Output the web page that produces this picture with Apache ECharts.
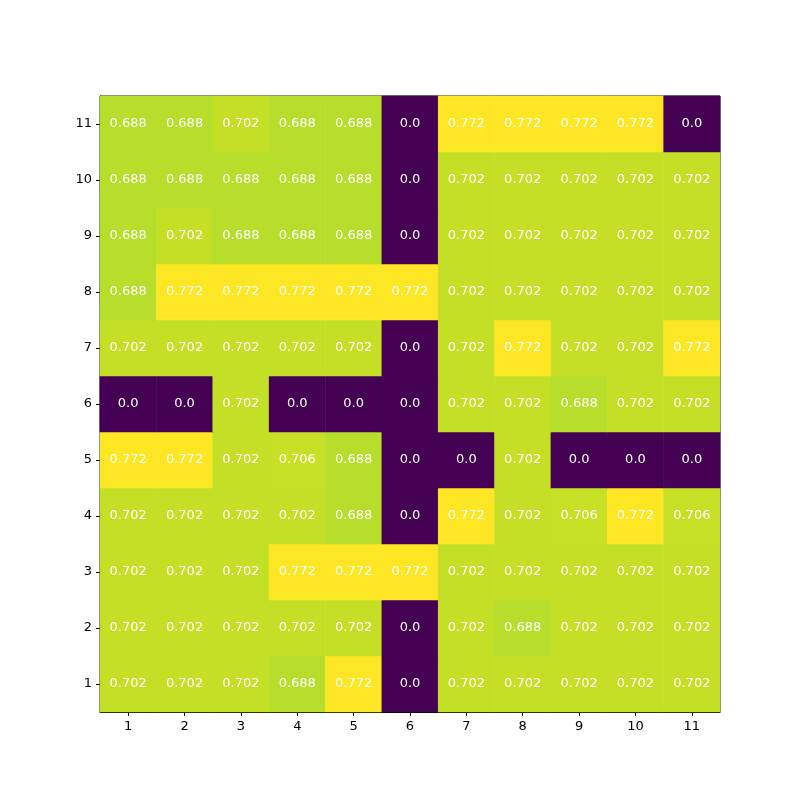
<!DOCTYPE html>
<html>
<head>
<meta charset="utf-8">
<script src="https://cdn.jsdelivr.net/npm/echarts@6/dist/echarts.min.js"></script>
<style>html,body{margin:0;padding:0;background:#fff}#chart{width:800px;height:800px}</style>
</head>
<body>
<div id="chart"></div>
<script>
const xLabels = ['1','2','3','4','5','6','7','8','9','10','11'];
const yLabels = ['1','2','3','4','5','6','7','8','9','10','11'];
// rows from y=1 (bottom) to y=11 (top)
const row1  = [0.702,0.702,0.702,0.688,0.772,0.0,0.702,0.702,0.702,0.702,0.702];
const row2  = [0.702,0.702,0.702,0.702,0.702,0.0,0.702,0.688,0.702,0.702,0.702];
const row3  = [0.702,0.702,0.702,0.772,0.772,0.772,0.702,0.702,0.702,0.702,0.702];
const row4  = [0.702,0.702,0.702,0.702,0.688,0.0,0.772,0.702,0.706,0.772,0.706];
const row5  = [0.772,0.772,0.702,0.706,0.688,0.0,0.0,0.702,0.0,0.0,0.0];
const row6  = [0.0,0.0,0.702,0.0,0.0,0.0,0.702,0.702,0.688,0.702,0.702];
const row7  = [0.702,0.702,0.702,0.702,0.702,0.0,0.702,0.772,0.702,0.702,0.772];
const row8  = [0.688,0.772,0.772,0.772,0.772,0.772,0.702,0.702,0.702,0.702,0.702];
const row9  = [0.688,0.702,0.688,0.688,0.688,0.0,0.702,0.702,0.702,0.702,0.702];
const row10 = [0.688,0.688,0.688,0.688,0.688,0.0,0.702,0.702,0.702,0.702,0.702];
const row11 = [0.688,0.688,0.702,0.688,0.688,0.0,0.772,0.772,0.772,0.772,0.0];
const rows = [row1,row2,row3,row4,row5,row6,row7,row8,row9,row10,row11];

const data = [];
rows.forEach((r, yi) => r.forEach((v, xi) => data.push([xi, yi, v])));

// viridis sampled at 0, 0.1, ..., 1.0 (evenly spaced)
const viridis = ['#440154','#482475','#414487','#355f8d','#2a788e','#21918c','#22a884','#44bf70','#7ad151','#bddf26','#fde725'];
const vmin = 0, vmax = 0.772;
const chart = echarts.init(document.getElementById('chart'));
chart.setOption({
  animation: false,
  backgroundColor: '#fff',
  grid: {left: 100, top: 96, width: 620, height: 616, show: true, borderColor: '#000', borderWidth: 1, backgroundColor: 'transparent'},
  xAxis: {
    type: 'category', data: xLabels,
    axisLine: {show: true, lineStyle: {color: '#000'}},
    axisTick: {show: true, alignWithLabel: true, length: 4, lineStyle: {color: '#000'}},
    axisLabel: {color: '#000', fontSize: 13, fontFamily: 'DejaVu Sans', margin: 8},
    splitLine: {show: false}
  },
  yAxis: {
    type: 'category', data: yLabels,
    axisLine: {show: true, lineStyle: {color: '#000'}},
    axisTick: {show: true, alignWithLabel: true, length: 4, lineStyle: {color: '#000'}},
    axisLabel: {color: '#000', fontSize: 13, fontFamily: 'DejaVu Sans', margin: 8},
    splitLine: {show: false}
  },
  visualMap: {
    show: false, type: 'continuous', min: vmin, max: vmax, dimension: 2,
    inRange: {color: viridis}
  },
  series: [{
    type: 'heatmap',
    data: data,
    itemStyle: {borderWidth: 0},
    label: {
      show: true, color: '#fff', fontSize: 13, fontFamily: 'DejaVu Sans',
      formatter: p => { const v = p.value[2]; return v === 0 ? '0.0' : String(v); }
    },
    emphasis: {disabled: true}
  }]
});
</script>
</body>
</html>
